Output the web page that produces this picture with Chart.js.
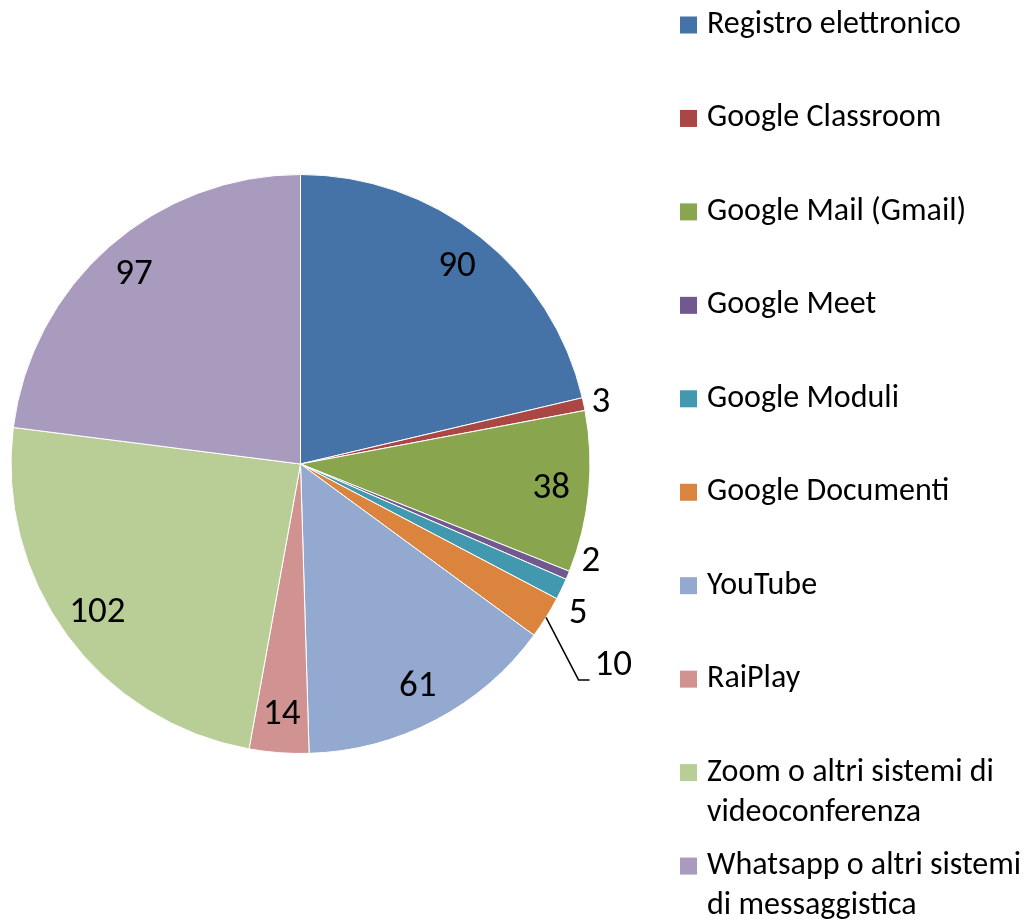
<!DOCTYPE html>
<html>
<head>
<meta charset="utf-8">
<script src="https://cdn.jsdelivr.net/npm/chart.js@4.4.0/dist/chart.umd.min.js"></script>
<style>
  html, body { margin: 0; padding: 0; background: #fff; }
  canvas { display: block; }
</style>
</head>
<body>
<canvas id="graficoTorta" width="1027" height="923"></canvas>
<script>
// Dati del grafico
const categorie = [
  "Registro elettronico",
  "Google Classroom",
  "Google Mail (Gmail)",
  "Google Meet",
  "Google Moduli",
  "Google Documenti",
  "YouTube",
  "RaiPlay",
  "Zoom o altri sistemi di videoconferenza",
  "Whatsapp o altri sistemi di messaggistica",
];
const risposte = [90, 3, 38, 2, 5, 10, 61, 14, 102, 97];
const colori = [
  "#4572A7", "#AA4643", "#89A54E", "#71588F", "#4198AF",
  "#DB843D", "#93A9CF", "#D19392", "#B9CD96", "#A99BBD",
];

const FONT = '"Carlito", "Lato", "Open Sans", sans-serif';
const FONT_LEGENDA = 32;
const FONT_VALORI = 37;

// spezza il testo della legenda su più righe
function spezza(ctx, testo, maxW) {
  const parole = testo.split(" ");
  const righe = [];
  let riga = "";
  parole.forEach((p) => {
    const prova = riga ? riga + " " + p : p;
    if (ctx.measureText(prova).width > maxW && riga) {
      righe.push(riga);
      riga = p;
    } else {
      riga = prova;
    }
  });
  if (riga) righe.push(riga);
  return righe;
}

// Etichette dei valori (dentro o fuori dalla fetta)
const etichettePlugin = {
  id: "etichette",
  afterDatasetsDraw(chart) {
    const ctx = chart.ctx;
    const meta = chart.getDatasetMeta(0);
    const valori = chart.data.datasets[0].data;
    ctx.save();
    ctx.font = `${FONT_VALORI}px ${FONT}`;
    ctx.fillStyle = "#000";
    ctx.textBaseline = "middle";
    const esterne = [];

    meta.data.forEach((arc, i) => {
      const p = arc.getProps(["x", "y", "startAngle", "endAngle", "outerRadius"], true);
      const mid = (p.startAngle + p.endAngle) / 2;
      const testo = String(valori[i]);
      const w = ctx.measureText(testo).width;
      const rIn = p.outerRadius * 0.87;
      const arco = (p.endAngle - p.startAngle) * rIn;
      if (arco > w + 8) {
        ctx.textAlign = "center";
        ctx.fillText(testo, p.x + Math.cos(mid) * rIn, p.y + Math.sin(mid) * rIn);
      } else {
        const rOut = p.outerRadius + 8;
        esterne.push({
          testo, mid, p,
          x0: p.x + Math.cos(mid) * rOut,
          y0: p.y + Math.sin(mid) * rOut,
          rOut,
        });
      }
    });

    // evita sovrapposizioni (solo lato destro in questo grafico)
    const gap = 52;
    esterne.sort((a, b) => a.y0 - b.y0);
    let gruppi = [];
    esterne.forEach((e, k) => {
      e.y = e.y0;
      if (k > 0 && e.y < esterne[k - 1].y + gap) {
        e.y = esterne[k - 1].y + gap;
        gruppi[gruppi.length - 1].push(e);
      } else {
        gruppi.push([e]);
      }
    });
    gruppi.forEach((g) => {
      if (g.length < 2) return;
      const m0 = g.reduce((s, e) => s + e.y0, 0) / g.length;
      const m1 = g.reduce((s, e) => s + e.y, 0) / g.length;
      const shift = (m0 - m1) * 0.5;
      g.forEach((e) => (e.y += shift));
    });

    ctx.textAlign = "left";
    esterne.forEach((e) => {
      const p = e.p;
      const spost = Math.abs(e.y - e.y0);
      if (spost < 30) {
        const dy = e.y - p.y;
        const xc = p.x + Math.sqrt(Math.max(e.rOut * e.rOut - dy * dy, 0));
        ctx.fillText(e.testo, Math.max(e.x0, xc), e.y);
      } else {
        // linea di richiamo
        const ax = p.x + Math.cos(e.mid) * p.outerRadius;
        const ay = p.y + Math.sin(e.mid) * p.outerRadius;
        const ey = e.y + 14;
        const ex = ax + (ey - ay) * 0.52;
        ctx.strokeStyle = "#000";
        ctx.lineWidth = 1.5;
        ctx.beginPath();
        ctx.moveTo(ax, ay);
        ctx.lineTo(ex, ey);
        ctx.lineTo(ex + 11, ey);
        ctx.stroke();
        ctx.fillText(e.testo, ex + 16, e.y);
      }
    });
    ctx.restore();
  },
};

// Legenda a destra
const legendaPlugin = {
  id: "legenda",
  afterDraw(chart) {
    const ctx = chart.ctx;
    const col = chart.data.datasets[0].backgroundColor;
    ctx.save();
    ctx.font = `${FONT_LEGENDA}px ${FONT}`;
    ctx.textBaseline = "middle";
    ctx.textAlign = "left";
    const xQ = 680, lato = 17, xT = 707, yIniz = 25, passo = 93.45, interlinea = 40;
    chart.data.labels.forEach((lab, i) => {
      const y = yIniz + i * passo;
      ctx.fillStyle = col[i];
      ctx.fillRect(xQ, y - lato / 2, lato, lato);
      ctx.fillStyle = "#000";
      spezza(ctx, lab, 320).forEach((r, k) => ctx.fillText(r, xT, y + k * interlinea));
    });
    ctx.restore();
  },
};

const ctx = document.getElementById("graficoTorta").getContext("2d");
const grafico = new Chart(ctx, {
  type: "pie",
  data: {
    labels: categorie,
    datasets: [
      {
        data: risposte,
        backgroundColor: colori,
        borderColor: "#ffffff",
        borderWidth: 1,
      },
    ],
  },
  options: {
    responsive: false,
    animation: false,
    layout: { padding: { left: 10, right: 436, top: 174, bottom: 169 } },
    plugins: {
      legend: { display: false },
      tooltip: { enabled: false },
    },
  },
  plugins: [etichettePlugin, legendaPlugin],
});
</script>
</body>
</html>
